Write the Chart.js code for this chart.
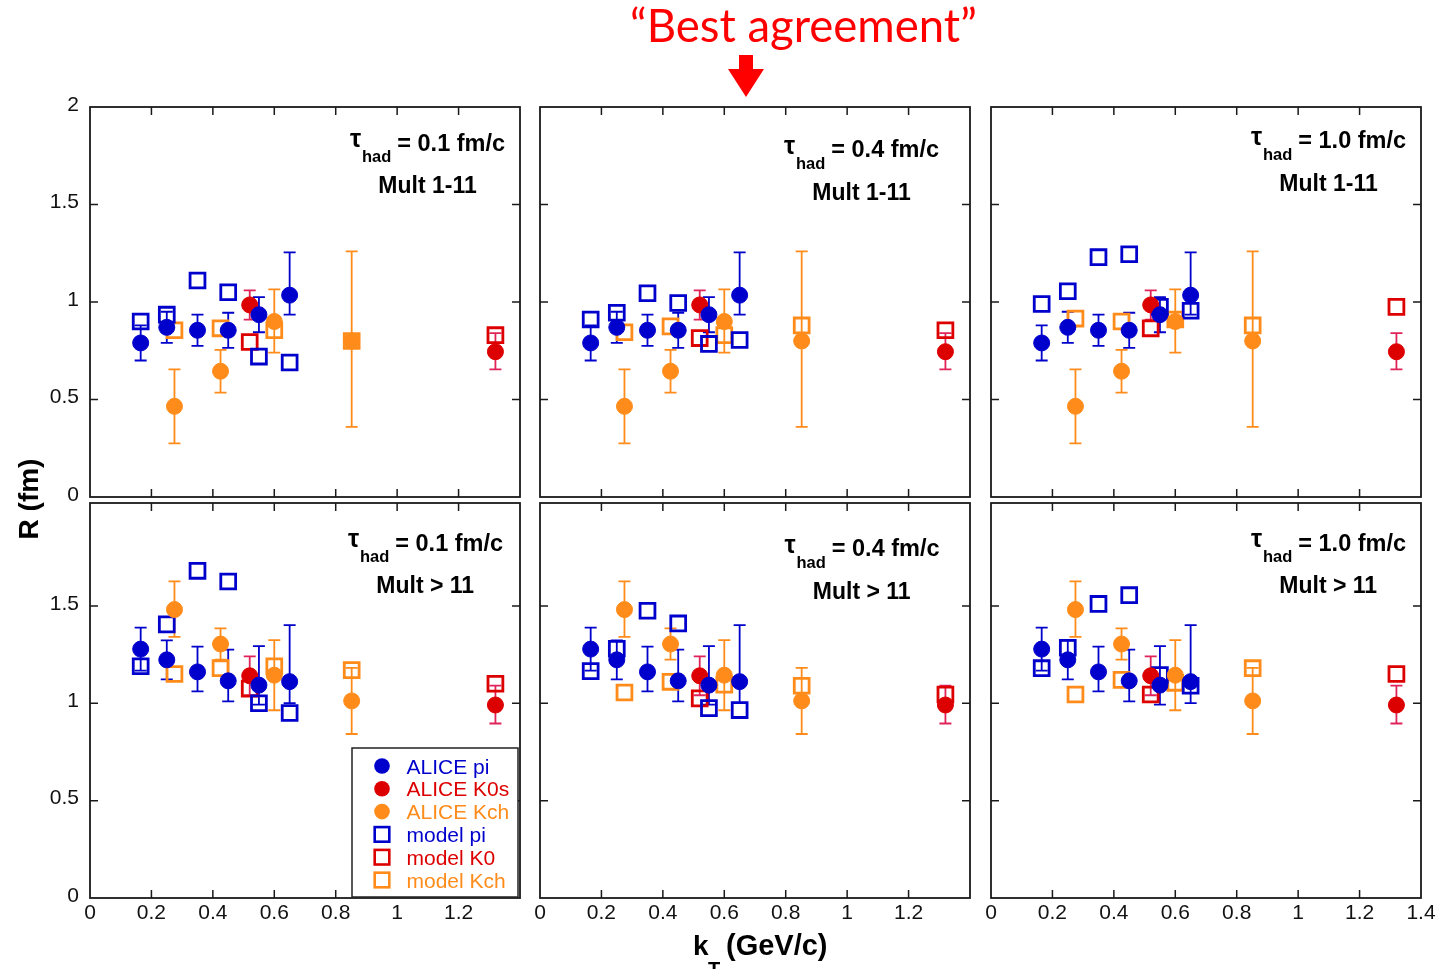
<!DOCTYPE html>
<html>
<head>
<meta charset="utf-8">
<script src="https://cdn.jsdelivr.net/npm/chart.js@4.4.1/dist/chart.umd.min.js"></script>
<style>
html,body{margin:0;padding:0;background:#fff;width:1441px;height:969px;overflow:hidden;position:relative}
canvas{position:absolute}
#overlay{position:absolute;left:0;top:0;pointer-events:none}
</style>
</head>
<body>
<svg id="overlay" width="1441" height="969" xmlns="http://www.w3.org/2000/svg"></svg>
<script>
// ---------------- DATA ----------------
const kT_pi  = [0.165, 0.25, 0.35, 0.45, 0.55, 0.65];
const kT_K0  = [0.52, 1.32];
const kT_Kch = [0.275, 0.425, 0.60, 0.852];

// ALICE measurements, Mult 1-11
const alicePi_m1     = [0.79, 0.87, 0.855, 0.855, 0.935, 1.035];
const alicePi_m1_up  = [0.09, 0.08, 0.08, 0.09, 0.09, 0.22];
const alicePi_m1_dn  = [0.09, 0.08, 0.08, 0.09, 0.09, 0.10];
const aliceK0_m1     = [0.985, 0.745];
const aliceK0_m1_up  = [0.075, 0.095];
const aliceK0_m1_dn  = [0.075, 0.09];
const aliceKch_m1    = [0.465, 0.645, 0.90, 0.80];
const aliceKch_m1_up = [0.19, 0.11, 0.165, 0.46];
const aliceKch_m1_dn = [0.19, 0.11, 0.16, 0.44];

// ALICE measurements, Mult > 11
const alicePi_m2     = [1.278, 1.223, 1.161, 1.115, 1.093, 1.111];
const alicePi_m2_up  = [0.11, 0.10, 0.13, 0.16, 0.20, 0.29];
const alicePi_m2_dn  = [0.11, 0.10, 0.10, 0.105, 0.10, 0.11];
const aliceK0_m2     = [1.141, 0.991];
const aliceK0_m2_up  = [0.10, 0.10];
const aliceK0_m2_dn  = [0.10, 0.095];
const aliceKch_m2    = [1.481, 1.304, 1.144, 1.012];
const aliceKch_m2_up = [0.145, 0.08, 0.18, 0.17];
const aliceKch_m2_dn = [0.14, 0.08, 0.18, 0.17];

// Model, Mult 1-11
const modelPi_t01_m1  = [0.90, 0.935, 1.11, 1.05, 0.72, 0.69];
const modelK0_t01_m1  = [0.795, 0.83];
const modelKch_t01_m1 = [0.855, 0.865, 0.855, 0.80];
const modelPi_t04_m1  = [0.91, 0.945, 1.045, 0.995, 0.785, 0.805];
const modelK0_t04_m1  = [0.815, 0.855];
const modelKch_t04_m1 = [0.845, 0.875, 0.83, 0.88];
const modelPi_t10_m1  = [0.99, 1.055, 1.23, 1.245, 0.975, 0.955];
const modelK0_t10_m1  = [0.865, 0.975];
const modelKch_t10_m1 = [0.915, 0.90, 0.91, 0.88];

// Model, Mult > 11
const modelPi_t01_m2  = [1.19, 1.405, 1.68, 1.625, 1.0, 0.95];
const modelK0_t01_m2  = [1.075, 1.10];
const modelKch_t01_m2 = [1.15, 1.18, 1.19, 1.17];
const modelPi_t04_m2  = [1.165, 1.28, 1.475, 1.41, 0.975, 0.965];
const modelK0_t04_m2  = [1.025, 1.045];
const modelKch_t04_m2 = [1.055, 1.11, 1.095, 1.09];
const modelPi_t10_m2  = [1.18, 1.285, 1.51, 1.555, 1.145, 1.09];
const modelK0_t10_m2  = [1.045, 1.15];
const modelKch_t10_m2 = [1.045, 1.12, 1.105, 1.18];

// Labels and ticks
const tauLabels   = ['0.1', '0.4', '1.0'];
const multLabels  = ['Mult 1-11', 'Mult > 11'];
const seriesNames = ['ALICE pi', 'ALICE K0s', 'ALICE Kch', 'model pi', 'model K0', 'model Kch'];
const xTicksMain  = [0, 0.2, 0.4, 0.6, 0.8, 1, 1.2];
const xTicksLast  = [0, 0.2, 0.4, 0.6, 0.8, 1, 1.2, 1.4];
const yTicksTop   = [0, 0.5, 1, 1.5, 2];
const yTicksBot   = [0, 0.5, 1, 1.5];
const xMarkVals   = [0.2, 0.4, 0.6, 0.8, 1, 1.2];
const yMarkVals   = [0.5, 1, 1.5];

// ---------------- STYLE / LAYOUT ----------------
const BLUE = '#0000cc', RED = '#dd0000', ORANGE = '#ff8c1a';
const ERR_RED = '#e0245a';
const FONT = "'Liberation Sans', Arial, Helvetica, sans-serif";
const panelLeft = [90, 540, 991];
const panelW = 430;
const rowTop = [107, 503];
const rowH = [390, 395];
const rowYMax = [2, 395 / 194.75];
const PAD_T = 40, PAD_R = 40, AX_W = 70, AX_H = 45;

const aliceRows = [
  {pi: [alicePi_m1, alicePi_m1_up, alicePi_m1_dn], K0: [aliceK0_m1, aliceK0_m1_up, aliceK0_m1_dn], Kch: [aliceKch_m1, aliceKch_m1_up, aliceKch_m1_dn]},
  {pi: [alicePi_m2, alicePi_m2_up, alicePi_m2_dn], K0: [aliceK0_m2, aliceK0_m2_up, aliceK0_m2_dn], Kch: [aliceKch_m2, aliceKch_m2_up, aliceKch_m2_dn]}
];
const modelGrid = [
  [ [modelPi_t01_m1, modelK0_t01_m1, modelKch_t01_m1], [modelPi_t04_m1, modelK0_t04_m1, modelKch_t04_m1], [modelPi_t10_m1, modelK0_t10_m1, modelKch_t10_m1] ],
  [ [modelPi_t01_m2, modelK0_t01_m2, modelKch_t01_m2], [modelPi_t04_m2, modelK0_t04_m2, modelKch_t04_m2], [modelPi_t10_m2, modelK0_t10_m2, modelKch_t10_m2] ]
];

const pts = (xs, ys) => xs.map((x, i) => ({x: x, y: ys[i]}));
const fmt = v => (Math.round(v * 10) / 10).toString();

const panelPlugin = {
  id: 'panelFrame',
  beforeDatasetsDraw(chart) {
    const ctx = chart.ctx, xs = chart.scales.x, ys = chart.scales.y;
    ctx.save();
    chart.data.datasets.forEach(ds => {
      if (!ds.errUp) return;
      ctx.strokeStyle = ds.errColor;
      ctx.lineWidth = 1.8;
      ds.data.forEach((p, i) => {
        const px = xs.getPixelForValue(p.x);
        const yt = ys.getPixelForValue(p.y + ds.errUp[i]);
        const yb = ys.getPixelForValue(p.y - ds.errDn[i]);
        ctx.beginPath();
        ctx.moveTo(px, yt); ctx.lineTo(px, yb);
        ctx.moveTo(px - 6, yt); ctx.lineTo(px + 6, yt);
        ctx.moveTo(px - 6, yb); ctx.lineTo(px + 6, yb);
        ctx.stroke();
      });
    });
    ctx.restore();
  },
  afterDatasetsDraw(chart) {
    const ctx = chart.ctx, a = chart.chartArea, xs = chart.scales.x, ys = chart.scales.y;
    ctx.save();
    ctx.strokeStyle = '#1a1a1a';
    ctx.lineWidth = 1.8;
    ctx.strokeRect(a.left, a.top, a.right - a.left, a.bottom - a.top);
    ctx.lineWidth = 1.5;
    ctx.beginPath();
    xMarkVals.forEach(v => {
      const px = xs.getPixelForValue(v);
      ctx.moveTo(px, a.bottom); ctx.lineTo(px, a.bottom - 8);
      ctx.moveTo(px, a.top); ctx.lineTo(px, a.top + 8);
    });
    yMarkVals.forEach(v => {
      const py = ys.getPixelForValue(v);
      ctx.moveTo(a.left, py); ctx.lineTo(a.left + 8, py);
      ctx.moveTo(a.right, py); ctx.lineTo(a.right - 8, py);
    });
    ctx.stroke();
    ctx.restore();
  }
};

function makePanel(r, c) {
  const cv = document.createElement('canvas');
  const W = AX_W + panelW + PAD_R, H = PAD_T + rowH[r] + AX_H;
  cv.width = W; cv.height = H;
  cv.style.width = W + 'px'; cv.style.height = H + 'px';
  cv.style.left = (panelLeft[c] - AX_W) + 'px';
  cv.style.top = (rowTop[r] - PAD_T) + 'px';
  document.body.insertBefore(cv, document.getElementById('overlay'));

  const al = aliceRows[r];
  const md = modelGrid[r][c];
  const circle = (label, xs, set, col, ecol) => ({
    label: label, data: pts(xs, set[0]), errUp: set[1], errDn: set[2], errColor: ecol,
    pointStyle: 'circle', pointRadius: 8, pointHoverRadius: 8,
    backgroundColor: col, borderColor: col, borderWidth: 1
  });
  const square = (label, xs, ys, col) => ({
    label: label, data: pts(xs, ys),
    pointStyle: 'rect', pointRadius: 10.5, pointHoverRadius: 10.5,
    backgroundColor: 'rgba(0,0,0,0)', borderColor: col, borderWidth: 2.8
  });
  const datasets = [
    circle(seriesNames[0], kT_pi, al.pi, BLUE, BLUE),
    circle(seriesNames[1], kT_K0, al.K0, RED, ERR_RED),
    circle(seriesNames[2], kT_Kch, al.Kch, ORANGE, ORANGE),
    square(seriesNames[3], kT_pi, md[0], BLUE),
    square(seriesNames[4], kT_K0, md[1], RED),
    square(seriesNames[5], kT_Kch, md[2], ORANGE)
  ];
  const xLab = c === 2 ? xTicksLast : xTicksMain;
  const yLab = r === 0 ? yTicksTop : yTicksBot;

  new Chart(cv, {
    type: 'scatter',
    data: {datasets: datasets},
    options: {
      responsive: false, animation: false, devicePixelRatio: 1,
      layout: {padding: {left: 0, top: PAD_T, right: PAD_R, bottom: 0}},
      plugins: {legend: {display: false}, tooltip: {enabled: false}},
      events: [],
      scales: {
        x: {
          type: 'linear', min: 0, max: 1.4,
          grid: {display: false, drawTicks: false, tickLength: 0}, border: {display: false},
          afterBuildTicks: s => { s.ticks = xLab.map(v => ({value: v})); },
          ticks: {display: r === 1, autoSkip: false, maxRotation: 0, padding: 3,
                  font: {family: FONT, size: 21}, color: '#111', callback: v => fmt(v)},
          afterFit: s => { s.height = AX_H; }
        },
        y: {
          type: 'linear', min: 0, max: rowYMax[r],
          grid: {display: false, drawTicks: false, tickLength: 0}, border: {display: false},
          afterBuildTicks: s => { s.ticks = yLab.map(v => ({value: v})); },
          ticks: {display: c === 0, autoSkip: false, padding: 11, labelOffset: -2,
                  font: {family: FONT, size: 21}, color: '#111', callback: v => fmt(v)},
          afterFit: s => { s.width = AX_W; }
        }
      }
    },
    plugins: [panelPlugin]
  });
}

for (let r = 0; r < 2; r++) for (let c = 0; c < 3; c++) makePanel(r, c);

// ---------------- TEXT OVERLAY (SVG) ----------------
const NS = 'http://www.w3.org/2000/svg';
const svg = document.getElementById('overlay');
function el(tag, attrs, text) {
  const e = document.createElementNS(NS, tag);
  for (const k in attrs) e.setAttribute(k, attrs[k]);
  if (text !== undefined) e.textContent = text;
  svg.appendChild(e);
  return e;
}
function txt(x, y, s, size, opts) {
  opts = opts || {};
  return el('text', Object.assign({x: x, y: y, 'font-family': opts.family || FONT, 'font-size': size,
    'font-weight': opts.bold ? 'bold' : 'normal', fill: opts.fill || '#000'}, opts.extra || {}), s);
}

// Title and arrow
txt(630, 42, '\u201CBest agreement\u201D', 45.5, {family: "Lato, 'Open Sans', sans-serif", fill: '#ff0000'});
el('polygon', {points: '739,55 753,55 753,69 764,69 746,97 728,69 739,69', fill: '#ff0000'});

// Panel annotations
const shifts = [[[0, 0], [434, 6.5], [901, -2.3]], [[-2, 400], [434.5, 405.5], [901, 400]]];
for (let r = 0; r < 2; r++) for (let c = 0; c < 3; c++) {
  const [dx, dy] = shifts[r][c];
  txt(350 + dx, 147 + dy, '\u03C4', 25, {bold: true});
  txt(362 + dx, 162 + dy, 'had', 16.5, {bold: true});
  txt(397.3 + dx, 150.5 + dy, '= ' + tauLabels[c] + ' fm/c', 23.5, {bold: true});
  txt(378.3 + dx, 193 + dy, multLabels[r], 23, {bold: true});
}

// Axis titles
txt(0, 0, 'R (fm)', 28, {bold: true, extra: {transform: 'translate(38,499) rotate(-90)', 'text-anchor': 'middle'}});
txt(693, 955, 'k', 28, {bold: true});
txt(708, 976, 'T', 20, {bold: true});
txt(726, 955, '(GeV/c)', 29, {bold: true});

// Legend
el('rect', {x: 352, y: 748, width: 166, height: 149, fill: '#fff', stroke: '#222', 'stroke-width': 1.5});
const legCols = [BLUE, RED, ORANGE, BLUE, RED, ORANGE];
seriesNames.forEach((name, i) => {
  const base = 773.5 + i * 22.8;
  const cy = base - 7.5;
  if (i < 3) el('circle', {cx: 382, cy: cy, r: 7.8, fill: legCols[i]});
  else el('rect', {x: 382 - 7.3, y: cy - 7.3, width: 14.6, height: 14.6, fill: 'none', stroke: legCols[i], 'stroke-width': 2.6});
  txt(406.5, base, name, 21, {fill: legCols[i]});
});
</script>
</body>
</html>
